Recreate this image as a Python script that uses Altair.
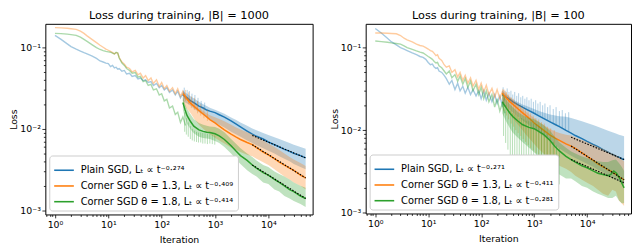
import altair as alt
import pandas as pd

FONT = "DejaVu Sans"
COLORS = ["#1f77b4", "#ff7f0e", "#2ca02c"]
KEYS = ["plain", "c13", "c18"]

TITLE_L = "Loss during training, |B| = 1000"
TITLE_R = "Loss during training, |B| = 100"
LABELS_L = ["Plain SGD, Lₜ ∝ t⁻⁰·²⁷⁴",
            "Corner SGD θ = 1.3, Lₜ ∝ t⁻⁰·⁴⁰⁹",
            "Corner SGD θ = 1.8, Lₜ ∝ t⁻⁰·⁴¹⁴"]
LABELS_R = ["Plain SGD, Lₜ ∝ t⁻⁰·²⁷¹",
            "Corner SGD θ = 1.3, Lₜ ∝ t⁻⁰·⁴¹¹",
            "Corner SGD θ = 1.8, Lₜ ∝ t⁻⁰·²⁸¹"]

X_DOMAIN = [0.66, 67600]
Y_DOMAIN_L = [0.000891, 0.194]
Y_DOMAIN_R = [0.000977, 0.194]
X_TICKS = [0.7, 0.8, 0.9] + [m * 10 ** k for k in range(0, 5) for m in range(1, 10)
                             if m * 10 ** k <= 60000]
Y_TICKS = [m * 10.0 ** k for k in (-3, -2, -1) for m in range(1, 10) if m * 10.0 ** k <= 0.19]

# ---------- early phase (faint raw curves) ----------
EARLY_X = [1, 1.3, 1.7, 2, 2.5, 3, 3.5, 4, 5, 6, 7, 8, 9, 10, 11, 12, 13, 14, 15, 16,
           18, 20, 22, 25, 28, 32, 36, 40, 45, 50, 56, 63, 70, 80, 90, 100, 112, 125,
           140, 160, 180, 200, 225, 250, 280]
EARLY_L_BLUE = [0.140, 0.125, 0.110, 0.102, 0.095, 0.090, 0.086, 0.083, 0.078, 0.073,
                0.068, 0.066, 0.064, 0.063, 0.058, 0.060, 0.056, 0.057, 0.054, 0.055,
                0.051, 0.052, 0.047, 0.048, 0.044, 0.045, 0.041, 0.042, 0.039, 0.040,
                0.037, 0.038, 0.034, 0.036, 0.032, 0.034, 0.030, 0.032, 0.028, 0.030,
                0.026, 0.029, 0.024, 0.027, 0.023]
EARLY_L_ORANGE = [0.174, 0.173, 0.171, 0.169, 0.166, 0.158, 0.148, 0.138, 0.124, 0.114,
                  0.106, 0.100, 0.095, 0.092, 0.089, 0.086, 0.083, 0.086, 0.085, 0.075,
                  0.066, 0.062, 0.057, 0.055, 0.050, 0.052, 0.046, 0.048, 0.042, 0.045,
                  0.039, 0.042, 0.036, 0.040, 0.033, 0.037, 0.031, 0.034, 0.029, 0.032,
                  0.027, 0.031, 0.025, 0.029, 0.024]
EARLY_L_GREEN = [0.148, 0.147, 0.145, 0.143, 0.140, 0.133, 0.125, 0.118, 0.107, 0.099,
                 0.094, 0.091, 0.089, 0.088, 0.087, 0.085, 0.083, 0.087, 0.085, 0.074,
                 0.064, 0.060, 0.055, 0.052, 0.048, 0.049, 0.043, 0.044, 0.038, 0.039,
                 0.034, 0.035, 0.030, 0.031, 0.026, 0.027, 0.022, 0.023, 0.018, 0.019,
                 0.015, 0.016, 0.012, 0.014, 0.011]
EARLY_R_BLUE = [0.170, 0.150, 0.130, 0.118, 0.108, 0.100, 0.096, 0.092, 0.086, 0.082,
                0.078, 0.076, 0.072, 0.066, 0.062, 0.063, 0.058, 0.056, 0.057, 0.052,
                0.050, 0.046, 0.042, 0.036, 0.040, 0.031, 0.037, 0.030, 0.034, 0.028,
                0.033, 0.027, 0.031, 0.026, 0.030, 0.024, 0.030, 0.023, 0.028, 0.022,
                0.027, 0.021, 0.026, 0.020, 0.025]
EARLY_R_ORANGE = [0.150, 0.150, 0.149, 0.148, 0.147, 0.140, 0.130, 0.124, 0.117, 0.110,
                  0.106, 0.104, 0.100, 0.096, 0.092, 0.090, 0.085, 0.080, 0.082, 0.074,
                  0.070, 0.062, 0.058, 0.060, 0.050, 0.054, 0.044, 0.050, 0.040, 0.046,
                  0.037, 0.043, 0.034, 0.040, 0.031, 0.037, 0.029, 0.035, 0.027, 0.032,
                  0.025, 0.031, 0.024, 0.029, 0.023]
EARLY_R_GREEN = [0.120, 0.118, 0.116, 0.114, 0.112, 0.110, 0.105, 0.100, 0.095, 0.091,
                 0.088, 0.086, 0.082, 0.078, 0.075, 0.072, 0.068, 0.065, 0.066, 0.060,
                 0.057, 0.052, 0.048, 0.052, 0.043, 0.047, 0.039, 0.045, 0.036, 0.042,
                 0.033, 0.039, 0.030, 0.036, 0.027, 0.033, 0.024, 0.030, 0.022, 0.027,
                 0.019, 0.024, 0.017, 0.021, 0.016]

# ---------- late phase: mean curves ----------
LINE_X_L = [250, 275, 300, 350, 400, 500, 600, 700, 800, 1000, 1200, 1500, 2000, 2500,
            3000, 4000, 5000, 6000, 8000, 10000, 13000, 16000, 20000, 25000, 30000,
            40000, 50000]
LINE_L_BLUE = [0.026, 0.025, 0.024, 0.022, 0.021, 0.019, 0.018, 0.017, 0.0165, 0.0158,
               0.0149, 0.0139, 0.0125, 0.0114, 0.0106, 0.0094, 0.0086, 0.0081, 0.0075,
               0.0069, 0.0064, 0.0060, 0.0056, 0.0053, 0.0050, 0.0047, 0.0044]
LINE_L_ORANGE = [0.027, 0.025, 0.023, 0.0205, 0.019, 0.0168, 0.0152, 0.0140, 0.0130,
                 0.0118, 0.0108, 0.0097, 0.0086, 0.0079, 0.0074, 0.0068, 0.0064, 0.0059,
                 0.0052, 0.0048, 0.0043, 0.0039, 0.0036, 0.0033, 0.0031, 0.0027, 0.0025]
LINE_L_GREEN = [0.021, 0.017, 0.0145, 0.0122, 0.0108, 0.0097, 0.0093, 0.0091, 0.0090,
                0.0087, 0.0082, 0.0074, 0.0062, 0.0053, 0.0047, 0.0041, 0.0036, 0.0033,
                0.0029, 0.0027, 0.0024, 0.0022, 0.0020, 0.0018, 0.0017, 0.0015, 0.0014]

LINE_X_R = [250, 275, 300, 350, 400, 500, 600, 700, 800, 1000, 1200, 1500, 2000, 2500,
            3000, 4000, 5000, 6000, 8000, 10000, 13000, 16000, 20000, 25000, 28000,
            32000, 36000, 40000, 45000, 50000]
LINE_R_BLUE = [0.027, 0.026, 0.025, 0.0235, 0.022, 0.0202, 0.019, 0.018, 0.0172, 0.0160,
               0.0150, 0.0139, 0.0126, 0.0117, 0.0110, 0.0099, 0.0092, 0.0086, 0.0079,
               0.0073, 0.0067, 0.0063, 0.0058, 0.0054, 0.0052, 0.0050, 0.0048, 0.0047,
               0.0045, 0.0044]
LINE_R_ORANGE = [0.028, 0.026, 0.0245, 0.022, 0.0205, 0.0180, 0.0163, 0.0150, 0.0140,
                 0.0122, 0.0112, 0.0100, 0.0087, 0.0080, 0.0075, 0.0068, 0.0064, 0.0060,
                 0.0053, 0.0048, 0.0043, 0.0039, 0.0036, 0.0033, 0.0032, 0.0030, 0.0029,
                 0.0027, 0.0026, 0.0025]
LINE_R_GREEN = [0.022, 0.020, 0.0185, 0.016, 0.0145, 0.0128, 0.0117, 0.0112, 0.0108,
                0.0104, 0.0097, 0.0089, 0.0075, 0.0063, 0.0056, 0.0048, 0.0044, 0.0041,
                0.0037, 0.0035, 0.0032, 0.0030, 0.0029, 0.0028, 0.0029, 0.0032, 0.0030,
                0.0027, 0.0023, 0.0020]

# ---------- late phase: spread bands ----------
BAND_X_L = [250, 275, 300, 350, 400, 500, 600, 700, 800, 1000, 1200, 1500, 2000, 2500,
            3000, 4000, 5000, 6000, 8000, 10000, 13000, 16000, 20000, 25000, 30000,
            40000, 50000]
BAND_L_BLUE_HI = [0.030, 0.028, 0.027, 0.025, 0.0238, 0.0215, 0.0200, 0.0190, 0.0182,
                  0.0172, 0.0163, 0.0153, 0.0138, 0.0128, 0.0120, 0.0109, 0.0101, 0.0096,
                  0.0089, 0.0084, 0.0079, 0.0075, 0.0071, 0.0067, 0.0064, 0.0060, 0.0057]
BAND_L_BLUE_LO = [0.022, 0.021, 0.0205, 0.0192, 0.0178, 0.0160, 0.0148, 0.0138, 0.0130,
                  0.0120, 0.0112, 0.0104, 0.0092, 0.0085, 0.0080, 0.0072, 0.0067, 0.0063,
                  0.0058, 0.0054, 0.0050, 0.0046, 0.0043, 0.0040, 0.0037, 0.0034, 0.0032]
BAND_L_ORANGE_HI = [0.029, 0.027, 0.025, 0.0228, 0.0210, 0.0180, 0.0165, 0.0155, 0.0147,
                    0.0139, 0.0132, 0.0124, 0.0112, 0.0104, 0.0098, 0.0091, 0.0086, 0.0080,
                    0.0072, 0.0066, 0.0060, 0.0055, 0.0050, 0.0045, 0.0042, 0.0038, 0.0035]
BAND_L_ORANGE_LO = [0.022, 0.019, 0.0175, 0.0155, 0.0135, 0.0112, 0.0100, 0.0092, 0.0086,
                    0.0078, 0.0072, 0.0066, 0.0059, 0.0055, 0.0052, 0.0048, 0.0046, 0.0043,
                    0.0039, 0.0036, 0.0032, 0.0029, 0.0026, 0.0024, 0.0022, 0.0020, 0.0018]
BAND_L_GREEN_HI = [0.025, 0.020, 0.0175, 0.0150, 0.0132, 0.0118, 0.0112, 0.0109, 0.0107,
                   0.0105, 0.0100, 0.0091, 0.0075, 0.0065, 0.0058, 0.0050, 0.0045, 0.0041,
                   0.0036, 0.0034, 0.0030, 0.0028, 0.0026, 0.0024, 0.0022, 0.0020, 0.0019]
BAND_L_GREEN_LO = [0.017, 0.0135, 0.0115, 0.0098, 0.0088, 0.0080, 0.0077, 0.0076, 0.0075,
                   0.0071, 0.0067, 0.0060, 0.0050, 0.0042, 0.0037, 0.0031, 0.0028, 0.0026,
                   0.0022, 0.0021, 0.0018, 0.0017, 0.0015, 0.0014, 0.0013, 0.0012, 0.0011]

BAND_X_R = [250, 300, 350, 400, 500, 600, 700, 800, 1000, 1200, 1500, 2000, 2500, 3000,
            4000, 5000, 6000, 8000, 10000, 13000, 16000, 20000, 25000, 30000, 35000,
            40000, 45000, 50000]
BAND_R_BLUE_HI = [0.030, 0.027, 0.025, 0.0235, 0.0218, 0.0205, 0.0197, 0.0190, 0.0180,
                  0.0172, 0.0163, 0.0155, 0.0150, 0.0147, 0.0145, 0.0140, 0.0135, 0.0128,
                  0.0122, 0.0115, 0.0110, 0.0104, 0.0098, 0.0094, 0.0091, 0.0088, 0.0086,
                  0.0084]
BAND_R_BLUE_LO = [0.021, 0.019, 0.0175, 0.0162, 0.0145, 0.0132, 0.0123, 0.0115, 0.0102,
                  0.0094, 0.0085, 0.0074, 0.0066, 0.0060, 0.0053, 0.0049, 0.0046, 0.0042,
                  0.0039, 0.0036, 0.0033, 0.0031, 0.0028, 0.0026, 0.0025, 0.0024, 0.0023,
                  0.0022]
BAND_R_ORANGE_HI = [0.032, 0.028, 0.025, 0.023, 0.020, 0.0182, 0.0168, 0.0157, 0.0140,
                    0.0128, 0.0116, 0.0103, 0.0096, 0.0092, 0.0088, 0.0086, 0.0082, 0.0076,
                    0.0072, 0.0067, 0.0063, 0.0059, 0.0055, 0.0052, 0.0050, 0.0047, 0.0044,
                    0.0042]
BAND_R_ORANGE_LO = [0.021, 0.018, 0.0155, 0.0138, 0.0115, 0.0100, 0.0088, 0.0080, 0.0068,
                    0.0060, 0.0052, 0.0045, 0.0040, 0.0037, 0.0034, 0.0031, 0.0028, 0.0025,
                    0.0023, 0.0021, 0.0019, 0.0017, 0.0016, 0.0019, 0.0018, 0.0014, 0.0013,
                    0.0012]
BAND_R_GREEN_HI = [0.028, 0.023, 0.0205, 0.0188, 0.0165, 0.0152, 0.0145, 0.0140, 0.0135,
                   0.0126, 0.0115, 0.0098, 0.0082, 0.0071, 0.0061, 0.0055, 0.0052, 0.0048,
                   0.0046, 0.0043, 0.0042, 0.0041, 0.0041, 0.0043, 0.0044, 0.0040, 0.0036,
                   0.0032]
BAND_R_GREEN_LO = [0.016, 0.0125, 0.0105, 0.0092, 0.0080, 0.0072, 0.0066, 0.0061, 0.0054,
                   0.0048, 0.0042, 0.0036, 0.0032, 0.0029, 0.0026, 0.0026, 0.0024, 0.0021,
                   0.0020, 0.0018, 0.0017, 0.0016, 0.0015, 0.0015, 0.0016, 0.0014, 0.0013,
                   0.0013]

# ---------- noise spikes in the late phase (vertical excursions) ----------
SPK_L_BLUE_X = [265, 300, 330, 370, 420, 480, 550, 640]
SPK_L_BLUE_LO = [0.025, 0.024, 0.023, 0.022, 0.0205, 0.0195, 0.0185, 0.0175]
SPK_L_BLUE_HI = [0.032, 0.030, 0.029, 0.027, 0.026, 0.024, 0.022, 0.021]
SPK_L_ORANGE_X = [280, 320, 360, 410, 470, 540, 620, 720]
SPK_L_ORANGE_LO = [0.022, 0.020, 0.018, 0.017, 0.0155, 0.0145, 0.0135, 0.0125]
SPK_L_ORANGE_HI = [0.030, 0.028, 0.025, 0.024, 0.022, 0.020, 0.018, 0.017]
SPK_L_GREEN_X = [270, 290, 315, 345, 375, 410, 450, 490, 540, 590, 650, 720, 800, 890, 990]
SPK_L_GREEN_LO = [0.0092, 0.0085, 0.0080, 0.0075, 0.0072, 0.0070, 0.0069, 0.0068, 0.0068,
                  0.0066, 0.0066, 0.0065, 0.0066, 0.0065, 0.0064]
SPK_L_GREEN_HI = [0.016, 0.0135, 0.0120, 0.0108, 0.0100, 0.0095, 0.0092, 0.0090, 0.0090,
                  0.0089, 0.0088, 0.0087, 0.0086, 0.0085, 0.0083]

SPK_R_BLUE_X = [260, 285, 310, 335, 365, 395, 430, 470, 510, 560, 610, 670, 730, 800, 880,
                970, 1070, 1180, 1300, 1450, 1600, 1800, 2000, 2300, 2600, 3000, 3400,
                3900, 4500]
SPK_R_BLUE_LO = [0.026, 0.025, 0.024, 0.023, 0.022, 0.0215, 0.021, 0.020, 0.0195, 0.019,
                 0.0185, 0.018, 0.0175, 0.017, 0.0165, 0.016, 0.0155, 0.015, 0.0145, 0.014,
                 0.0135, 0.013, 0.0125, 0.012, 0.0115, 0.011, 0.0105, 0.010, 0.0095]
SPK_R_BLUE_HI = [0.033, 0.030, 0.032, 0.029, 0.030, 0.027, 0.029, 0.026, 0.028, 0.025,
                 0.026, 0.024, 0.025, 0.023, 0.024, 0.022, 0.023, 0.021, 0.022, 0.020,
                 0.021, 0.019, 0.020, 0.018, 0.019, 0.017, 0.0175, 0.016, 0.0165]
SPK_R_ORANGE_X = [270, 300, 330, 370, 410, 450, 500, 560, 620, 690, 770, 860, 960, 1080,
                  1220, 1380, 1560, 1780, 2050, 2400]
SPK_R_ORANGE_LO = [0.017, 0.015, 0.0135, 0.012, 0.011, 0.010, 0.0092, 0.0085, 0.0078,
                   0.0072, 0.0066, 0.0061, 0.0057, 0.0053, 0.0050, 0.0047, 0.0045, 0.0043,
                   0.0041, 0.0039]
SPK_R_ORANGE_HI = [0.031, 0.029, 0.027, 0.025, 0.024, 0.022, 0.021, 0.020, 0.019, 0.018,
                   0.017, 0.016, 0.015, 0.014, 0.0135, 0.0125, 0.012, 0.011, 0.0105, 0.010]
SPK_R_GREEN_X = [265, 290, 320, 355, 390, 430, 475, 525, 580, 640, 710, 790, 880, 980,
                 1100, 1230, 1380, 1550, 1750, 2000, 2300, 2650, 3000]
SPK_R_GREEN_LO = [0.0085, 0.0070, 0.0058, 0.0050, 0.0045, 0.0040, 0.0036, 0.0033, 0.0031,
                  0.0029, 0.0027, 0.0026, 0.0025, 0.0024, 0.0023, 0.0023, 0.0022, 0.0022,
                  0.0022, 0.0022, 0.0022, 0.0022, 0.0022]
SPK_R_GREEN_HI = [0.022, 0.020, 0.018, 0.017, 0.016, 0.0155, 0.0150, 0.0140, 0.0140,
                  0.0135, 0.0130, 0.0128, 0.0125, 0.0120, 0.0118, 0.0112, 0.0105, 0.0098,
                  0.0090, 0.0082, 0.0072, 0.0065, 0.0060]

# ---------- power-law fits ----------
FIT_X = [5000, 50000]
FIT_L = [[0.0083, 0.0044], [0.0064, 0.0025], [0.0036, 0.0014]]
FIT_R = [[0.0082, 0.0044], [0.0064, 0.0025], [0.0044, 0.0023]]

MAJOR = "abs(log(datum.value)/LN10 - round(log(datum.value)/LN10)) < 0.001"
EXP = "round(log(datum.value)/LN10)"
LABEL_EXPR = (f"{MAJOR} ? '10' + ({EXP} < 0 ? '⁻' : '') + "
              f"['⁰','¹','²','³','⁴','⁵'][abs({EXP})] : ''")
TICK_SIZE = {"condition": {"test": MAJOR, "value": 3.5}, "value": 2}


def panel(title, labels, early, line_x, lines, band_x, bands, spikes, fits, ydom, w, h):
    xenc = alt.X("x:Q", scale=alt.Scale(type="log", domain=X_DOMAIN),
                 axis=alt.Axis(values=X_TICKS, labelExpr=LABEL_EXPR, tickSize=TICK_SIZE,
                               labelFlush=False, labelOverlap=False, titlePadding=6),
                 title="Iteration")
    yenc = alt.Y("y:Q", scale=alt.Scale(type="log", domain=ydom),
                 axis=alt.Axis(values=Y_TICKS, labelExpr=LABEL_EXPR, tickSize=TICK_SIZE,
                               labelFlush=False, labelOverlap=False, titlePadding=1,
                               labelPadding=1.5),
                 title="Loss")
    rows = []
    for i, ys in enumerate(early):
        for x, y in zip(EARLY_X, ys):
            rows.append({"x": x, "y": y, "k": KEYS[i], "hex": COLORS[i]})
    layers = [alt.Chart(pd.DataFrame(rows)).mark_line(strokeWidth=1.4, opacity=0.4, clip=True)
              .encode(x=xenc, y=yenc, color=alt.Color("hex:N", scale=None), detail="k:N")]
    for i in range(3):
        ldf = pd.DataFrame({"x": line_x, "y": lines[i], "label": labels[i]})
        layers.append(alt.Chart(ldf).mark_line(strokeWidth=1.5, clip=True).encode(
            x=xenc, y=yenc,
            color=alt.Color("label:N", scale=alt.Scale(domain=labels, range=COLORS),
                            title=None)))
        sx, slo, shi = spikes[i]
        sdf = pd.DataFrame({"x": sx, "y": slo, "y2": shi})
        layers.append(alt.Chart(sdf).mark_rule(opacity=0.35, color=COLORS[i], strokeWidth=1,
                                               clip=True)
                      .encode(x=xenc, y=yenc, y2="y2:Q"))
        lo, hi = bands[i]
        bdf = pd.DataFrame({"x": band_x, "y": lo, "y2": hi})
        layers.append(alt.Chart(bdf).mark_area(opacity=0.3, color=COLORS[i], clip=True)
                      .encode(x=xenc, y=yenc, y2="y2:Q"))
    frows = []
    for i in range(3):
        for x, y in zip(FIT_X, fits[i]):
            frows.append({"x": x, "y": y, "k": KEYS[i]})
    layers.append(alt.Chart(pd.DataFrame(frows)).mark_line(
        color="black", strokeDash=[1.5, 1.5], strokeWidth=1.2, clip=True)
        .encode(x=xenc, y=yenc, detail="k:N"))
    return alt.layer(*layers).properties(width=w, height=h, title=title)


left = panel(TITLE_L, LABELS_L, [EARLY_L_BLUE, EARLY_L_ORANGE, EARLY_L_GREEN],
             LINE_X_L, [LINE_L_BLUE, LINE_L_ORANGE, LINE_L_GREEN], BAND_X_L,
             [(BAND_L_BLUE_LO, BAND_L_BLUE_HI), (BAND_L_ORANGE_LO, BAND_L_ORANGE_HI),
              (BAND_L_GREEN_LO, BAND_L_GREEN_HI)],
             [(SPK_L_BLUE_X, SPK_L_BLUE_LO, SPK_L_BLUE_HI),
              (SPK_L_ORANGE_X, SPK_L_ORANGE_LO, SPK_L_ORANGE_HI),
              (SPK_L_GREEN_X, SPK_L_GREEN_LO, SPK_L_GREEN_HI)],
             FIT_L, Y_DOMAIN_L, 272, 194)
right = panel(TITLE_R, LABELS_R, [EARLY_R_BLUE, EARLY_R_ORANGE, EARLY_R_GREEN],
              LINE_X_R, [LINE_R_BLUE, LINE_R_ORANGE, LINE_R_GREEN], BAND_X_R,
              [(BAND_R_BLUE_LO, BAND_R_BLUE_HI), (BAND_R_ORANGE_LO, BAND_R_ORANGE_HI),
               (BAND_R_GREEN_LO, BAND_R_GREEN_HI)],
              [(SPK_R_BLUE_X, SPK_R_BLUE_LO, SPK_R_BLUE_HI),
               (SPK_R_ORANGE_X, SPK_R_ORANGE_LO, SPK_R_ORANGE_HI),
               (SPK_R_GREEN_X, SPK_R_GREEN_LO, SPK_R_GREEN_HI)],
              FIT_R, Y_DOMAIN_R, 270, 193)

chart = (alt.hconcat(left, right, spacing=15)
         .resolve_scale(x="independent", y="independent", color="independent")
         .resolve_legend(color="independent")
         .properties(padding=0)
         .configure_view(stroke="black", strokeWidth=1)
         .configure_axis(grid=False, domain=False, labelFont=FONT, titleFont=FONT,
                         labelFontSize=9.5, titleFontSize=9.5, labelColor="black",
                         titleColor="black", tickColor="black", tickWidth=0.8,
                         titleFontWeight="normal", labelPadding=2)
         .configure_legend(orient="bottom-left", offset=4, fillColor="white",
                           strokeColor="#cccccc", cornerRadius=3, padding=4,
                           labelFont=FONT, labelFontSize=10, labelColor="black",
                           symbolType="stroke", symbolSize=400, symbolStrokeWidth=1.6,
                           symbolOpacity=1, labelLimit=300, rowPadding=-4, labelOffset=6)
         .configure_title(font=FONT, fontSize=11.5, fontWeight="normal", color="black",
                          anchor="middle", offset=2, frame="group"))

chart.save("out.html", embed_options={"renderer": "svg", "actions": False})
